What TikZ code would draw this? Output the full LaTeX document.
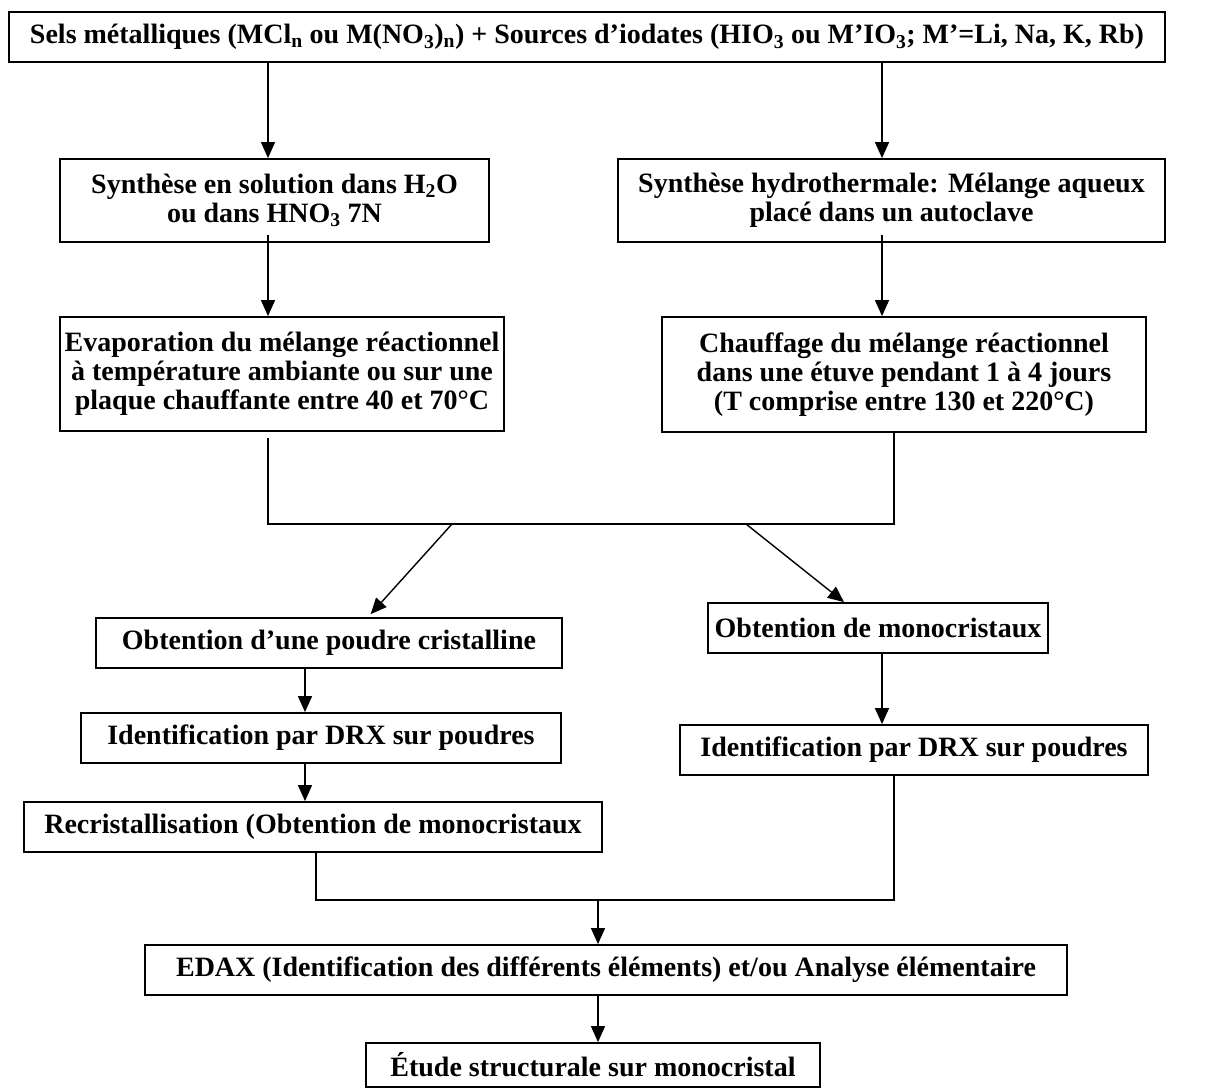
\documentclass[tikz,border=0pt]{standalone}
\usepackage{fontspec}
\setmainfont{Liberation Serif}
\usetikzlibrary{arrows.meta,calc}
\definecolor{encre}{HTML}{000000}
\newcommand{\Larg}{1215}
\newcommand{\Haut}{1088}
\newcommand{\JoncHaut}{524}
\newcommand{\JoncBas}{900}

\begin{document}
\begin{tikzpicture}[x=1pt, y=-1pt, encre,
  font=\fontsize{28}{29}\selectfont\bfseries,
  etape/.style={draw, line width=1.8pt, align=center, inner sep=0pt},
  fleche/.style={line width=1.4pt, -{Triangle[length=16pt,width=14pt]}},
  trait/.style={line width=1.4pt}]
\useasboundingbox (0,0) rectangle (\Larg,\Haut);

% --- Boxes: name, centre, size, text ---------------------------------------------
\foreach \nom/\cx/\cy/\w/\h/\txt in {
  top/587/37/1156/50/{Sels métalliques (MCl\textsubscript{n} ou M(NO\textsubscript{3})\textsubscript{n}) + Sources d’iodates (HIO\textsubscript{3} ou M’IO\textsubscript{3}; M’=Li, Na, K, Rb)},
  synA/274.5/200.5/429/83/{Synthèse en solution dans H\textsubscript{2}O\\ou dans HNO\textsubscript{3} 7N},
  synB/891.5/200.5/547/83/{Synthèse hydrothermale: Mélange aqueux\\placé dans un autoclave},
  evapA/282/374/444/114/{Evaporation du mélange réactionnel\\à température ambiante ou sur une\\plaque chauffante entre 40 et 70°C},
  chaufB/904/374.5/484/115/{Chauffage du mélange réactionnel\\dans une étuve pendant 1 à 4 jours\\(T comprise entre 130 et 220°C)},
  poudA/329/643/466/50/{Obtention d’une poudre cristalline},
  monoB/878/628/340/50/{Obtention de monocristaux},
  drxA/321/738/480/50/{Identification par DRX sur poudres},
  drxB/914/750/468/50/{Identification par DRX sur poudres},
  recri/313/827/578/50/{Recristallisation (Obtention de monocristaux},
  edax/606/970/922/50/{EDAX (Identification des différents éléments) et/ou Analyse élémentaire},
  etude/593/1065/454/44/{Étude structurale sur monocristal}} {
  \node[etape, minimum width=\w pt, minimum height=\h pt] (\nom) at (\cx,\cy) {\txt};
}

% --- Columns where the lines run ----------------------------------------------------
\foreach \nom/\x in {colA/268, colB/882, colC/894, colD/305, colE/316, colF/598, dA/452, dB/746, tA/368, tB/844} {
  \coordinate (\nom) at (\x,0);
}
\coordinate (joncH) at (0,\JoncHaut);
\coordinate (joncB) at (0,\JoncBas);

% --- Straight arrows, box to box ------------------------------------------------------
\foreach \a/\b/\c in {top/synA/colA, top/synB/colB, poudA/drxA/colD, drxA/recri/colD, monoB/drxB/colB, edax/etude/colF} {
  \draw[fleche] (\a.south -| \c) -- (\b.north -| \c);
}
% these two start a little inside the box above
\foreach \a/\b/\c in {synA/evapA/colA, synB/chaufB/colB} {
  \draw[fleche, shorten <=-8pt] (\a.south -| \c) -- (\b.north -| \c);
}

% --- The two routes meet, then split again --------------------------------------------
\draw[trait, shorten <=6pt] (evapA.south -| colA) -- (colA |- joncH) -- (colC |- joncH) -- (chaufB.south -| colC);
\draw[fleche, shorten >=4pt] (dA |- joncH) -- (poudA.north -| tA);
\draw[fleche] (dB |- joncH) -- (monoB.north -| tB);

% --- Both routes end in the analysis ----------------------------------------------------
\draw[trait] (recri.south -| colE) -- (colE |- joncB) -- (colC |- joncB) -- (drxB.south -| colC);
\draw[fleche] (colF |- joncB) -- (edax.north -| colF);

\end{tikzpicture}
\end{document}
